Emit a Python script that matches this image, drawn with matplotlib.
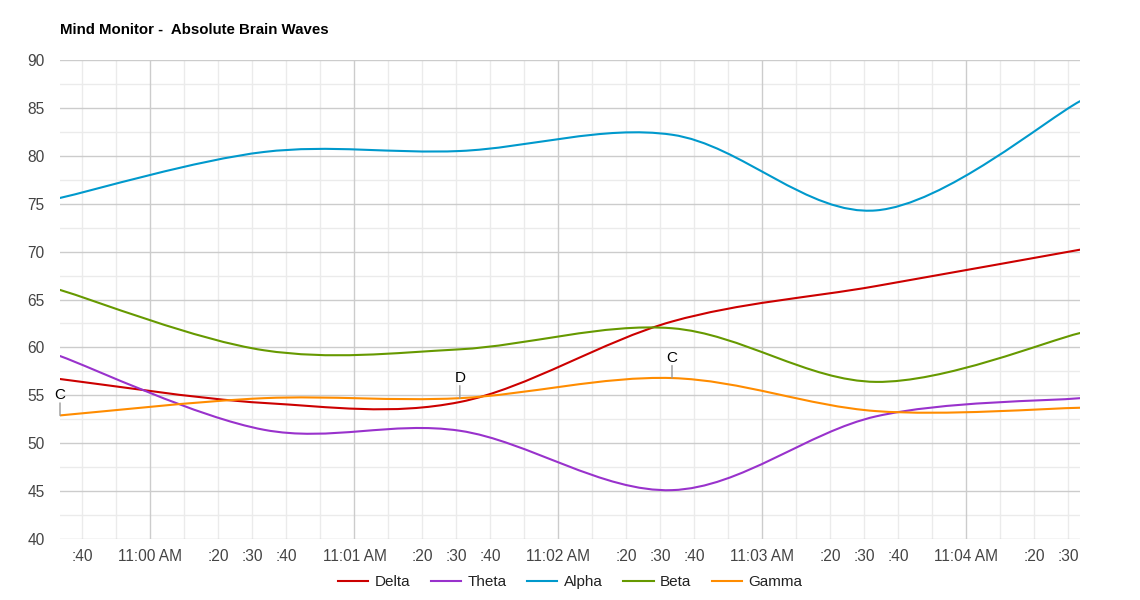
import matplotlib
matplotlib.use("Agg")
import matplotlib.pyplot as plt
from matplotlib.path import Path
from matplotlib.patches import PathPatch
from matplotlib.lines import Line2D
from matplotlib.ticker import MultipleLocator, FixedLocator, FixedFormatter

plt.rcParams['font.family'] = ['Liberation Sans', 'DejaVu Sans']

# ---- data (time in seconds relative to 11:00:00 AM) ----
times = [-26.6, 33.4, 91.0, 153.4, 213.4, 273.4]
delta = [56.7, 54.2, 54.3, 62.7, 66.4, 70.2]
theta = [59.1, 51.4, 51.3, 45.1, 52.8, 54.7]
alpha = [75.6, 80.4, 80.5, 82.2, 74.3, 85.7]
beta = [66.0, 59.7, 59.8, 62.0, 56.4, 61.5]
gamma = [52.9, 54.7, 54.7, 56.8, 53.35, 53.7]

series_names = ['Delta', 'Theta', 'Alpha', 'Beta', 'Gamma']
series_values = [delta, theta, alpha, beta, gamma]
series_colors = ['#cc0000', '#9932cc', '#0099cc', '#669900', '#ff8c00']

# annotations on Gamma
annot_index = [0, 2, 3]
annot_text = ['C', 'D', 'C']

tick_pos = [-20, 0, 20, 30, 40, 60, 80, 90, 100, 120, 140, 150, 160,
            180, 200, 210, 220, 240, 260, 270]
tick_labels = [':40', '11:00 AM', ':20', ':30', ':40', '11:01 AM', ':20', ':30', ':40',
               '11:02 AM', ':20', ':30', ':40', '11:03 AM', ':20', ':30', ':40',
               '11:04 AM', ':20', ':30']

fig = plt.figure(figsize=(11.4, 6.0), dpi=100)
ax = fig.add_axes([60 / 1140, 1 - 539 / 600, 1020 / 1140, 479 / 600])


def smooth_path(xs, ys, k=1 / 6):
    n = len(xs)
    verts = [(xs[0], ys[0])]
    codes = [Path.MOVETO]
    for i in range(n - 1):
        i0 = max(i - 1, 0)
        i3 = min(i + 2, n - 1)
        c1 = (xs[i] + (xs[i + 1] - xs[i0]) * k, ys[i] + (ys[i + 1] - ys[i0]) * k)
        c2 = (xs[i + 1] - (xs[i3] - xs[i]) * k, ys[i + 1] - (ys[i3] - ys[i]) * k)
        verts += [c1, c2, (xs[i + 1], ys[i + 1])]
        codes += [Path.CURVE4] * 3
    return Path(verts, codes)


for vals, col in zip(series_values, series_colors):
    patch = PathPatch(smooth_path(times, vals), facecolor='none', edgecolor=col,
                      lw=1.5, zorder=3, capstyle='round', joinstyle='round')
    ax.add_patch(patch)

for idx, txt in zip(annot_index, annot_text):
    ax.annotate('', xy=(times[idx], gamma[idx]), xytext=(0, 9), textcoords='offset points',
                arrowprops=dict(arrowstyle='-', color='#999999', lw=1, shrinkA=0, shrinkB=0),
                zorder=4)
    ax.annotate(txt, xy=(times[idx], gamma[idx]), xytext=(0, 14.5), textcoords='offset points',
                ha='center', va='center', fontsize=11, color='#000000', zorder=4)

ax.set_xlim(times[0], times[-1])
ax.set_ylim(40, 90)

ax.yaxis.set_major_locator(MultipleLocator(5))
ax.yaxis.set_minor_locator(MultipleLocator(2.5))
ax.xaxis.set_major_locator(FixedLocator(tick_pos))
ax.xaxis.set_major_formatter(FixedFormatter(tick_labels))

# gridlines
for m in range(0, 300, 60):
    ax.axvline(m, color='#cccccc', lw=1, zorder=1)
for s in range(-20, 280, 10):
    if s % 60 != 0:
        ax.axvline(s, color='#ebebeb', lw=1, zorder=0)
for v in range(40, 91, 5):
    ax.axhline(v, color='#cccccc', lw=1, zorder=1)
for v in [42.5 + 5 * i for i in range(10)]:
    ax.axhline(v, color='#ebebeb', lw=1, zorder=0)

for sp in ax.spines.values():
    sp.set_visible(False)
ax.tick_params(axis='both', which='both', length=0, labelsize=11.2, labelcolor='#444444')
ax.tick_params(axis='x', pad=7)
ax.tick_params(axis='y', pad=11)

fig.text(60 / 1140, 1 - 30 / 600, 'Mind Monitor -  Absolute Brain Waves', fontsize=10.8,
         fontweight='bold', ha='left', va='center', color='#000000')

handles = [Line2D([0], [0], color=c, lw=1.5) for c in series_colors]
leg = fig.legend(handles, series_names, loc='center', bbox_to_anchor=(0.5, 1 - 582 / 600),
                 ncol=5, frameon=False, fontsize=11, handlelength=2.0, handletextpad=0.4,
                 columnspacing=1.35)
for t in leg.get_texts():
    t.set_color('#222222')

fig.savefig('out.png', dpi=100)
